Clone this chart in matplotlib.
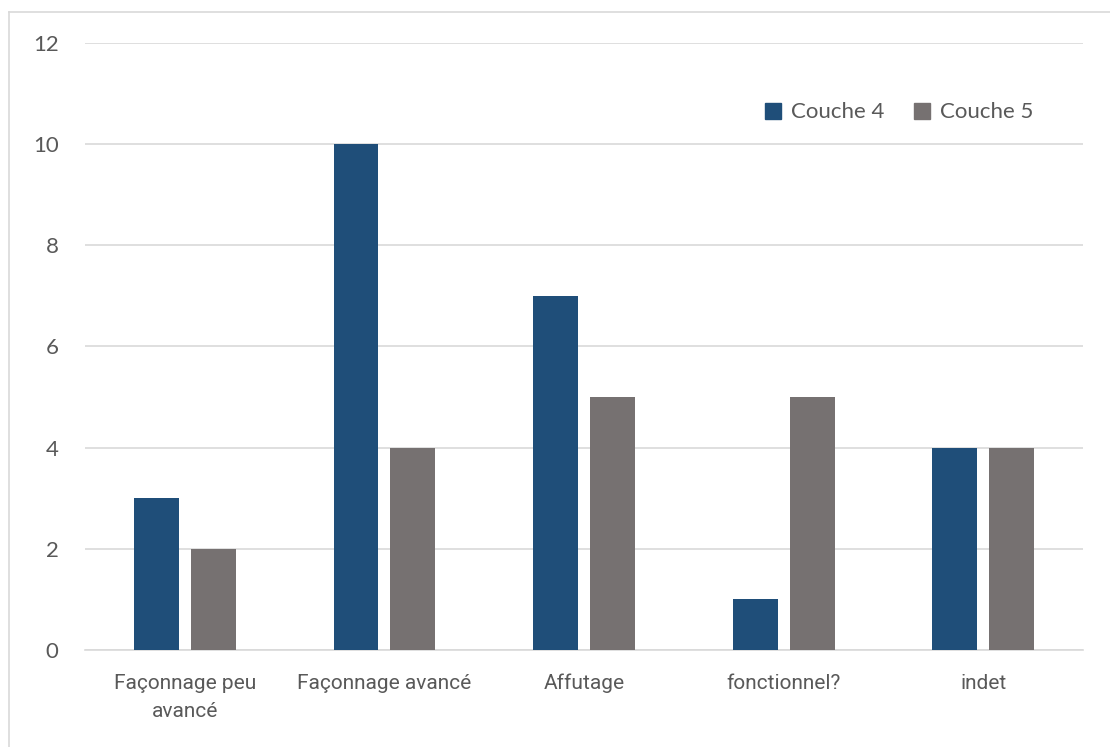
import numpy as np
import matplotlib.pyplot as plt
from matplotlib.lines import Line2D

categories = ["Façonnage peu\navancé", "Façonnage avancé", "Affutage",
              "fonctionnel?", "indet"]
couche4 = [3, 10, 7, 1, 4]
couche5 = [2, 4, 5, 5, 4]
series_names = ["Couche 4", "Couche 5"]

blue = "#1F4E79"
grey = "#767171"
text_col = "#595959"

fig = plt.figure(figsize=(11.1, 7.47), dpi=100)
ax = fig.add_axes([0.0766, 0.1299, 0.8991, 0.8125])

x = np.arange(len(categories))
w = 0.225
ax.bar(x - 0.1425, couche4, w, color=blue, label=series_names[0], zorder=3)
ax.bar(x + 0.1425, couche5, w, color=grey, label=series_names[1], zorder=3)

ax.set_xlim(-0.5, len(categories) - 0.5)
ax.set_ylim(0, 12)
ax.set_yticks(range(0, 13, 2))
ax.yaxis.grid(True, color="#D9D9D9", linewidth=1.2, zorder=0)
for s in ["top", "right", "left"]:
    ax.spines[s].set_visible(False)
ax.spines["bottom"].set_color("#D9D9D9")
ax.spines["bottom"].set_linewidth(1.2)
ax.tick_params(axis="both", length=0)
ax.tick_params(axis="y", pad=19, labelsize=16, labelcolor=text_col)
ax.set_yticklabels([str(v) for v in range(0, 13, 2)], family=["Lato", "DejaVu Sans"])
ax.set_xticks(x)
ax.set_xticklabels(categories, fontsize=15, color=text_col,
                   family=["Liberation Sans Narrow", "Roboto", "DejaVu Sans"],
                   linespacing=1.65)
ax.tick_params(axis="x", pad=17)

handles = [Line2D([], [], marker="s", linestyle="", markersize=11, color=blue),
           Line2D([], [], marker="s", linestyle="", markersize=11, color=grey)]
leg = ax.legend(handles, series_names, loc="upper right",
                bbox_to_anchor=(0.97, 0.935), ncol=2, frameon=False,
                prop={"family": ["Lato", "DejaVu Sans"], "size": 16},
                handletextpad=0.3, columnspacing=1.2, handlelength=1.0)
for t in leg.get_texts():
    t.set_color(text_col)

# chart border (left and top visible in the crop)
fig.add_artist(Line2D([9 / 1110, 9 / 1110], [0, 1 - 12 / 747],
                      transform=fig.transFigure, color="#D9D9D9", linewidth=1.2))
fig.add_artist(Line2D([9 / 1110, 1], [1 - 12 / 747, 1 - 12 / 747],
                      transform=fig.transFigure, color="#D9D9D9", linewidth=1.2))

fig.savefig("out.png", dpi=100)
